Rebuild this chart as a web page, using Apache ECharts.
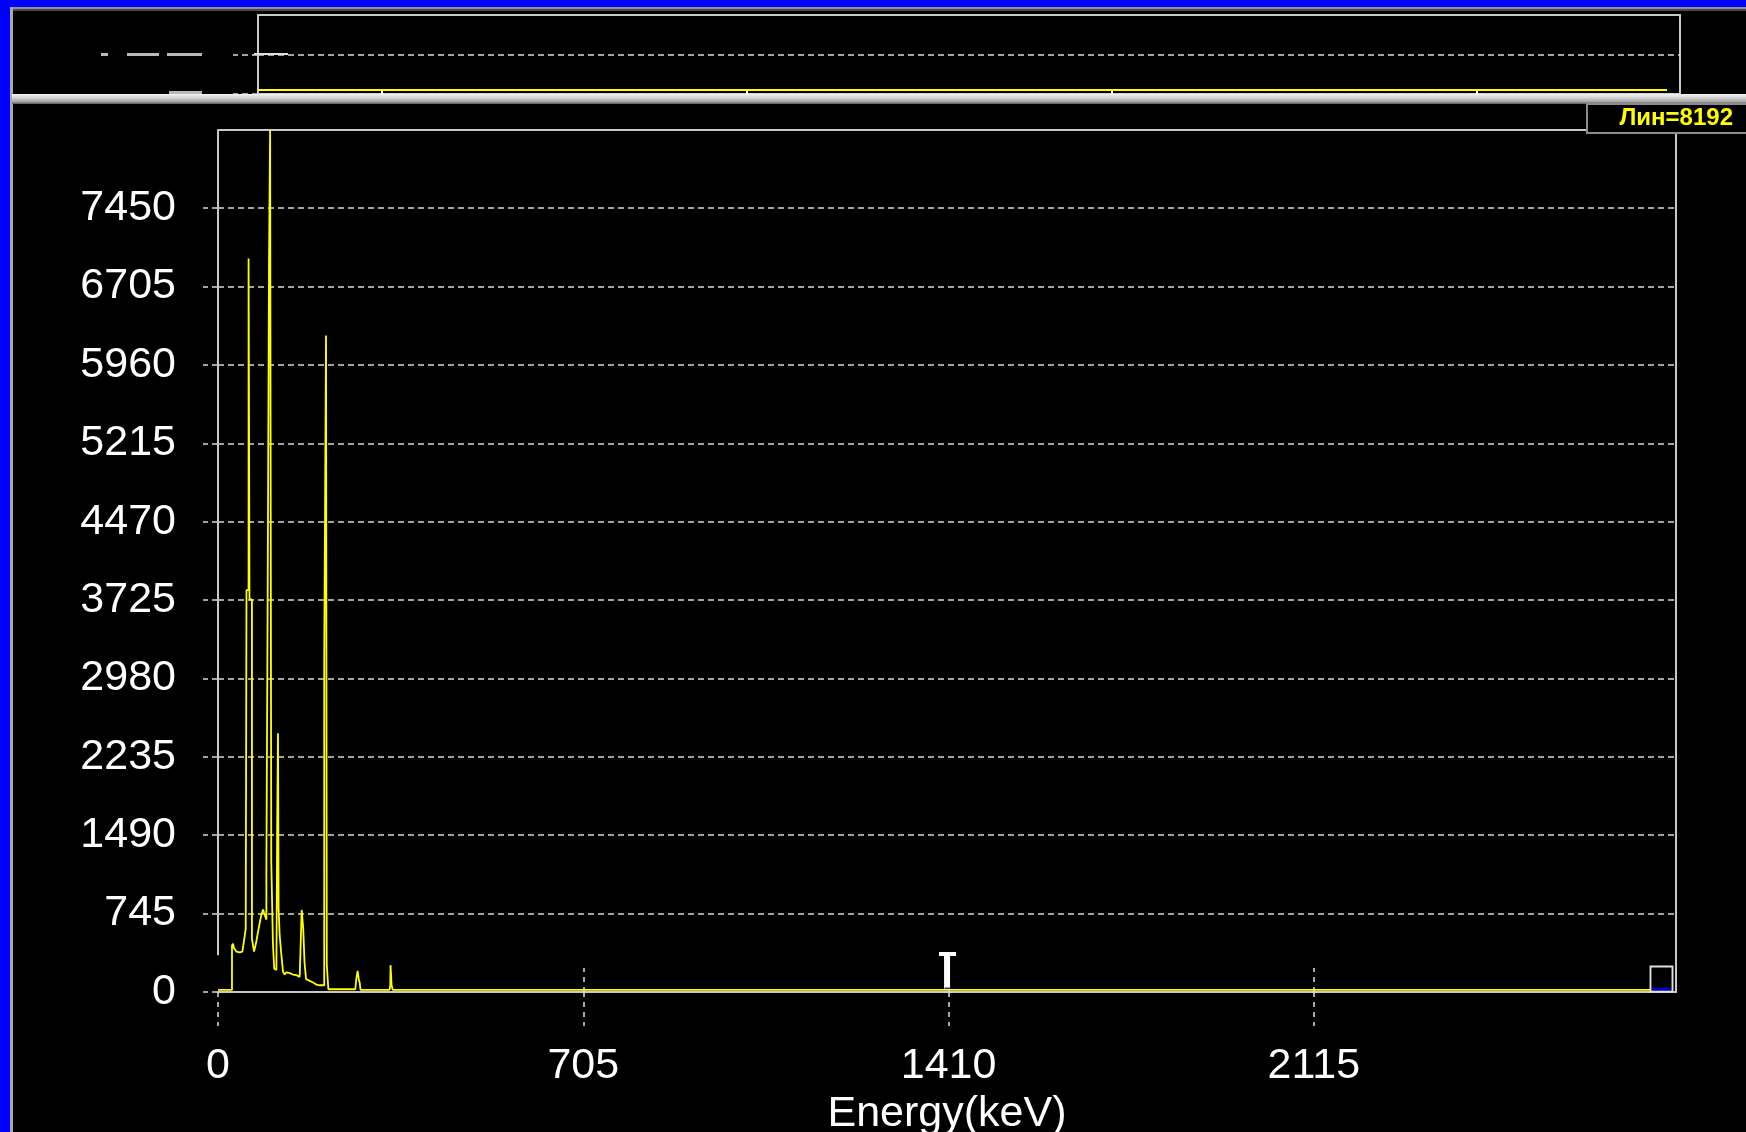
<!DOCTYPE html>
<html>
<head>
<meta charset="utf-8">
<script src="https://cdn.jsdelivr.net/npm/echarts@6/dist/echarts.min.js"></script>
<style>
html,body{margin:0;padding:0;background:#000;}
#c{width:1746px;height:1132px;}
</style>
</head>
<body>
<div id="c"></div>
<script>
// ---- data ----
const energyKeV = [
  0, 27, 27, 29, 31, 33.5, 35.5, 42, 47, 50, 53.5, 55, 55, 59, 59, 60.8, 60.8, 65.5, 65.5,
  67.6, 69.6, 72, 74, 77, 80.5, 83.7, 87, 89, 91.4, 93.4, 93.4, 95.8, 95.8, 98.5, 98.5,
  100.6, 100.6, 102.8, 102.8, 106, 106, 108.5, 108.5, 110, 112.7, 113, 114.2, 114.2,
  115.8, 115.8, 117, 117, 119, 122, 125.5, 128.7, 132, 138.4, 144.8, 151.3, 157.7,
  161.5, 161.5, 164.5, 164.5, 167, 167, 170, 177, 183.5, 190, 196, 205, 205, 208.5,
  208.5, 210, 210, 213, 213, 265, 267, 269.5, 271, 272, 273.5, 275, 331, 332.5, 333,
  334.5, 335, 337, 349, 350, 352, 374, 375.5, 377, 2765
];
const countValues = [
  20, 20, 440, 460, 415, 397, 384, 376, 384, 480, 600, 600, 3820, 3820, 6970, 6970, 3730, 3730, 506,
  496, 384, 378, 480, 566, 656, 736, 784, 752, 736, 688, 1160, 1160, 3680, 3680, 6970,
  6970, 8192, 8192, 1245, 1245, 460, 460, 224, 224, 208, 496, 496, 1590,
  1590, 2460, 2460, 790, 540, 368, 192, 166, 186, 180, 166, 160, 144,
  128, 780, 780, 600, 600, 280, 122, 106, 90, 70, 64, 64, 3160, 3160,
  6240, 6240, 256, 256, 26, 26, 128, 200, 200, 110, 90, 20, 20, 60, 255,
  255, 70, 20, 20, 30, 20, 20, 30, 20, 20
];
const xTicks = [0, 705, 1410, 2115];
const yTicks = [0, 745, 1490, 2235, 2980, 3725, 4470, 5215, 5960, 6705, 7450];
const xMax = 2814;
const yMax = 8192;
const cursorEnergy = 1410;
const endMarkerEnergy = 2786;
const borderStartCount = 350;

const overviewTicks = [705, 1410, 2115, 2820];
const overviewRange = [467, 3212];
const overviewEnergy = [467, 3187];
const overviewLevel = [0.1, 0.1];

const modeLabel = 'Лин=8192';
const axisName = 'Energy(keV)';

// ---- chart ----
const FONT = '"Liberation Sans", Arial, sans-serif';
const spectrum = energyKeV.map((e, i) => [e, countValues[i]]);
const overview = overviewEnergy.map((e, i) => [e, overviewLevel[i]]);
const dashGrid = { type: [6, 4], color: '#d8d8d8', width: 1.5 };
const dashTick = { type: [5, 5], color: '#e0e0e0', width: 1.5 };
const borderLine = { color: '#c8c8c8', width: 2 };
const plain = v => String(v);

const chart = echarts.init(document.getElementById('c'), null, { renderer: 'canvas' });

const option = {
  backgroundColor: '#000000',
  animation: false,
  grid: [
    { left: 218, top: 130, width: 1458, height: 862, show: false, containLabel: false, outerBoundsMode: 'none' },
    { left: 258, top: 15, width: 1422, height: 79, show: true, borderColor: '#c8c8c8', borderWidth: 2, backgroundColor: 'rgba(0,0,0,0)', containLabel: false, outerBoundsMode: 'none' }
  ],
  xAxis: [
    {
      gridIndex: 0, type: 'value', min: 0, max: xMax, interval: 705, position: 'bottom',
      axisLine: { show: true, onZero: false, lineStyle: borderLine },
      axisTick: { show: true, length: 34, customValues: xTicks, lineStyle: dashTick },
      axisLabel: { show: true, customValues: xTicks, formatter: plain, margin: 53, color: '#ffffff', fontSize: 43, fontFamily: FONT },
      splitLine: { show: false },
      name: axisName, nameLocation: 'middle', nameGap: 100,
      nameTextStyle: { color: '#ffffff', fontSize: 43, fontFamily: FONT }
    },
    {
      gridIndex: 0, type: 'value', min: 0, max: xMax, position: 'bottom',
      axisLine: { show: false, onZero: false },
      axisTick: { show: true, inside: true, length: 24, customValues: xTicks.slice(1), lineStyle: dashTick },
      axisLabel: { show: false }, splitLine: { show: false }
    },
    {
      gridIndex: 0, type: 'value', min: 0, max: xMax, position: 'top',
      axisLine: { show: true, onZero: false, lineStyle: borderLine },
      axisTick: { show: false }, axisLabel: { show: false }, splitLine: { show: false }
    },
    {
      gridIndex: 1, type: 'value', min: overviewRange[0], max: overviewRange[1], position: 'bottom',
      axisLine: { show: false, onZero: false },
      axisTick: { show: true, inside: true, length: 4, customValues: overviewTicks, lineStyle: { color: '#ffffff', width: 2 } },
      axisLabel: { show: false }, splitLine: { show: false }
    }
  ],
  yAxis: [
    {
      gridIndex: 0, type: 'value', min: 0, max: yMax, interval: 745, position: 'left',
      axisLine: { show: false, onZero: false },
      axisTick: { show: true, length: 15, customValues: yTicks, lineStyle: dashGrid },
      axisLabel: { show: true, customValues: yTicks, formatter: plain, margin: 42, color: '#ffffff', fontSize: 43, fontFamily: FONT },
      splitLine: { show: true, lineStyle: dashGrid }
    },
    {
      gridIndex: 0, type: 'value', min: 0, max: yMax, position: 'right',
      axisLine: { show: true, onZero: false, lineStyle: borderLine },
      axisTick: { show: false }, axisLabel: { show: false }, splitLine: { show: false }
    },
    {
      gridIndex: 1, type: 'value', min: 0, max: 2, interval: 1, position: 'left',
      axisLine: { show: false, onZero: false },
      axisTick: { show: true, length: 25, customValues: [0, 1], lineStyle: dashGrid },
      axisLabel: { show: false },
      splitLine: { show: true, lineStyle: dashGrid }
    }
  ],
  series: [
    {
      type: 'line', xAxisIndex: 0, yAxisIndex: 0, data: spectrum,
      symbol: 'none', showSymbol: false, clip: true, z: 5,
      lineStyle: { color: '#ffff00', width: 1.8 }, itemStyle: { color: '#ffff00' },
      markLine: {
        silent: true, symbol: ['none', 'none'], label: { show: false },
        lineStyle: { color: '#c8c8c8', width: 2, type: 'solid' },
        data: [[{ coord: [0, borderStartCount] }, { coord: [0, yMax] }]]
      },
      markPoint: {
        silent: true, label: { show: false },
        data: [
          { coord: [cursorEnergy, 0], symbol: 'path://M0,0H17V4H11V38H5V4H0Z', symbolSize: [17, 38], symbolOffset: [-1, -21], itemStyle: { color: '#ffffff' } },
          { coord: [cursorEnergy, 0], symbol: 'rect', symbolSize: [6, 3], symbolOffset: [-1, -3], itemStyle: { color: '#2020ff' } },
          { coord: [endMarkerEnergy, 0], symbol: 'rect', symbolSize: [22, 25], symbolOffset: [0, -13], itemStyle: { color: 'rgba(0,0,0,0)', borderColor: '#e0e0e0', borderWidth: 2 } },
          { coord: [endMarkerEnergy, 0], symbol: 'rect', symbolSize: [19, 3], symbolOffset: [0, -3], itemStyle: { color: '#0000c8' } }
        ]
      }
    },
    {
      type: 'line', xAxisIndex: 3, yAxisIndex: 2, data: overview,
      symbol: 'none', showSymbol: false,
      lineStyle: { color: '#ffff00', width: 2 }
    }
  ],
  graphic: [
    // window frame
    { type: 'rect', z: 0, shape: { x: 0, y: 0, width: 1746, height: 7 }, style: { fill: '#0000ff' } },
    { type: 'rect', z: 0, shape: { x: 0, y: 0, width: 10, height: 1132 }, style: { fill: '#0000ff' } },
    { type: 'rect', z: 0, shape: { x: 10, y: 7, width: 1736, height: 2 }, style: { fill: '#909090' } },
    { type: 'rect', z: 0, shape: { x: 10, y: 9, width: 1736, height: 2 }, style: { fill: '#4a4a4a' } },
    { type: 'rect', z: 0, shape: { x: 10, y: 7, width: 3, height: 1125 }, style: { fill: '#a8a8a8' } },
    // clipped overview labels
    { type: 'rect', z: 0, shape: { x: 101, y: 53, width: 7, height: 3 }, style: { fill: '#b8b8b8' } },
    { type: 'rect', z: 0, shape: { x: 127, y: 53, width: 32, height: 3 }, style: { fill: '#b8b8b8' } },
    { type: 'rect', z: 0, shape: { x: 167, y: 53, width: 35, height: 3 }, style: { fill: '#b8b8b8' } },
    { type: 'rect', z: 0, shape: { x: 169, y: 91, width: 33, height: 3 }, style: { fill: '#b8b8b8' } },
    { type: 'rect', z: 0, shape: { x: 254, y: 53, width: 34, height: 2 }, style: { fill: '#e0e0e0' } },
    // separator bar
    {
      type: 'rect', z: 100, shape: { x: 12, y: 94, width: 1734, height: 10 },
      style: {
        fill: new echarts.graphic.LinearGradient(0, 0, 0, 1, [
          { offset: 0, color: '#f4f4f4' }, { offset: 0.35, color: '#d6d6d6' },
          { offset: 0.75, color: '#a8a8a8' }, { offset: 1, color: '#5a5a5a' }
        ])
      }
    },
    // mode box
    { type: 'rect', z: 100, shape: { x: 1587, y: 104, width: 170, height: 29 }, style: { fill: '#000000', stroke: '#8c8c8c', lineWidth: 2 } },
    { type: 'text', z: 101, x: 1733, y: 118, style: { text: modeLabel, align: 'right', verticalAlign: 'middle', fill: '#ffff00', font: 'bold 24px "Liberation Sans", Arial, sans-serif' } }
  ]
};

chart.setOption(option);
</script>
</body>
</html>
